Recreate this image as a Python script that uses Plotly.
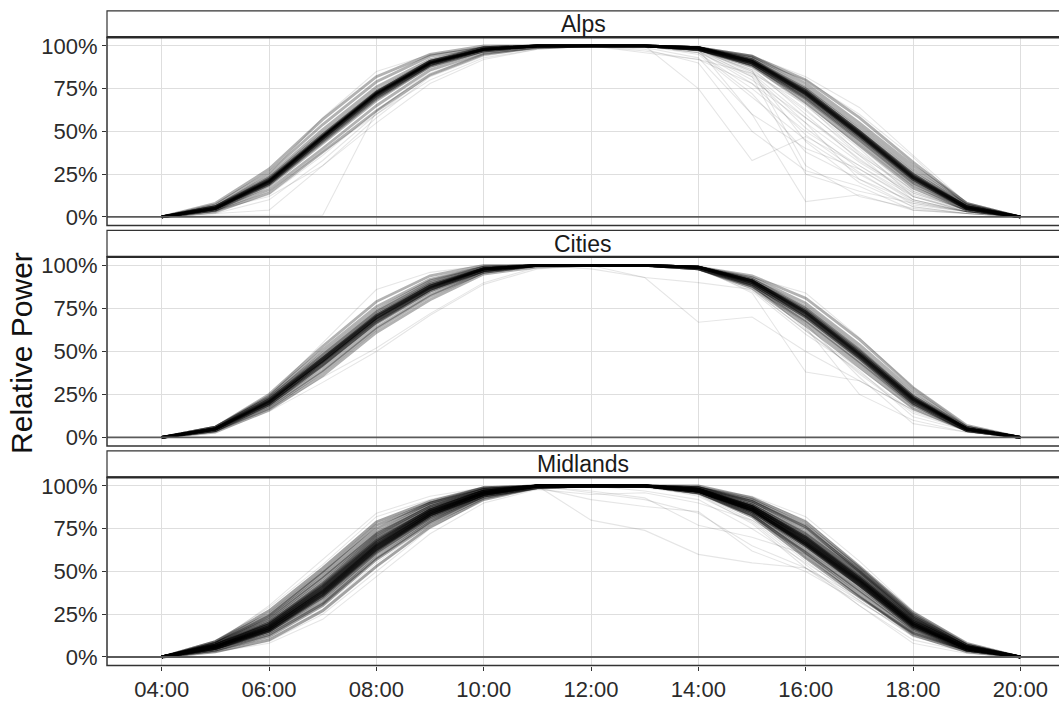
import plotly.graph_objects as go

# ---------------- data ----------------
HOURS = list(range(4, 21))  # 04:00 .. 20:00
HOUR_TICKS = [4, 6, 8, 10, 12, 14, 16, 18, 20]
HOUR_LABELS = ["04:00", "06:00", "08:00", "10:00", "12:00", "14:00", "16:00", "18:00", "20:00"]
PCT_TICKS = [0, 25, 50, 75, 100]
PCT_LABELS = ["0%", "25%", "50%", "75%", "100%"]
REGIONS = ["Alps", "Cities", "Midlands"]

# relative power (%) per hour 04..20; "typical" days form the dense band,
# "atypical" days are the faint scattered profiles
ALPS_TYPICAL = [
    [0, 3, 14, 38, 62, 83, 95, 99, 100, 100, 98, 88, 67, 42, 17, 4, 0],
    [0, 4, 16, 40, 65, 86, 96, 99, 100, 100, 98, 89, 69, 44, 19, 4, 0],
    [0, 4, 18, 43, 68, 88, 97, 100, 100, 100, 98, 89, 70, 46, 21, 5, 0],
    [0, 5, 19, 45, 70, 89, 98, 100, 100, 100, 98, 90, 71, 47, 22, 5, 0],
    [0, 5, 20, 46, 71, 90, 98, 100, 100, 100, 99, 90, 72, 48, 23, 5, 0],
    [0, 5, 21, 47, 72, 90, 98, 100, 100, 100, 99, 91, 73, 49, 24, 6, 0],
    [0, 5, 22, 47, 73, 91, 98, 100, 100, 100, 99, 91, 74, 50, 24, 6, 0],
    [0, 6, 22, 48, 73, 91, 99, 100, 100, 100, 99, 92, 74, 50, 25, 6, 0],
    [0, 6, 23, 49, 74, 91, 99, 100, 100, 100, 99, 92, 75, 51, 26, 7, 0],
    [0, 6, 24, 51, 76, 92, 99, 100, 100, 100, 99, 93, 76, 53, 28, 7, 0],
    [0, 7, 26, 54, 79, 94, 99, 100, 100, 100, 99, 94, 78, 55, 30, 8, 0],
    [0, 8, 28, 57, 82, 95, 100, 100, 100, 100, 99, 94, 80, 58, 32, 8, 0],
    [0, 5, 20, 46, 71, 89, 97, 100, 100, 100, 98, 90, 71, 47, 22, 5, 0],
    [0, 4, 19, 44, 69, 88, 97, 100, 100, 100, 99, 91, 72, 48, 23, 6, 0],
    [0, 6, 21, 47, 72, 90, 98, 100, 100, 100, 99, 92, 73, 49, 24, 6, 0],
    [0, 5, 20, 45, 70, 89, 98, 100, 100, 100, 98, 89, 69, 45, 20, 5, 0],
    [0, 5, 21, 47, 72, 90, 98, 100, 100, 100, 99, 91, 73, 49, 23, 6, 0],
    [0, 5, 20, 46, 72, 90, 98, 100, 100, 100, 99, 91, 72, 48, 23, 5, 0],
    [0, 6, 22, 48, 73, 91, 98, 100, 100, 100, 99, 91, 74, 50, 25, 6, 0],
    [0, 5, 21, 46, 71, 90, 98, 100, 100, 100, 98, 90, 72, 48, 22, 5, 0],
]
ALPS_ATYPICAL = [
    [0, 3, 13, 36, 62, 84, 95, 99, 100, 100, 99, 91, 73, 49, 24, 6, 0],
    [0, 2, 10, 33, 60, 83, 95, 99, 100, 100, 98, 90, 72, 48, 23, 5, 0],
    [0, 2, 4, 30, 58, 82, 94, 99, 100, 100, 99, 92, 74, 50, 25, 6, 0],
    [0, 1, 1, 1, 62, 85, 95, 99, 100, 100, 99, 91, 73, 49, 24, 6, 0],
    [0, 3, 15, 38, 60, 80, 93, 98, 100, 100, 99, 90, 72, 48, 23, 5, 0],
    [0, 6, 25, 58, 85, 95, 99, 100, 100, 100, 99, 91, 73, 49, 24, 6, 0],
    [0, 4, 12, 30, 55, 78, 92, 98, 100, 100, 99, 90, 72, 48, 23, 5, 0],
    [0, 5, 21, 47, 72, 90, 98, 100, 100, 100, 97, 80, 58, 36, 16, 4, 0],
    [0, 5, 22, 48, 73, 91, 98, 100, 100, 100, 96, 75, 50, 30, 12, 3, 0],
    [0, 4, 20, 46, 71, 89, 98, 100, 100, 100, 95, 70, 45, 25, 8, 3, 0],
    [0, 5, 21, 47, 72, 90, 98, 100, 100, 99, 93, 60, 40, 28, 10, 3, 0],
    [0, 6, 23, 49, 74, 91, 99, 100, 100, 100, 98, 85, 62, 38, 15, 4, 0],
    [0, 5, 21, 47, 72, 90, 98, 100, 100, 100, 75, 33, 47, 30, 10, 3, 0],
    [0, 5, 20, 45, 70, 89, 98, 100, 100, 98, 90, 50, 27, 18, 4, 2, 0],
    [0, 4, 19, 44, 69, 88, 97, 100, 100, 96, 92, 78, 55, 22, 6, 2, 0],
    [0, 5, 21, 47, 72, 90, 98, 100, 100, 100, 99, 88, 65, 40, 12, 3, 0],
    [0, 5, 22, 48, 73, 91, 98, 100, 100, 100, 98, 86, 30, 12, 5, 2, 0],
    [0, 6, 22, 48, 73, 90, 98, 100, 100, 100, 99, 92, 80, 60, 35, 6, 0],
    [0, 5, 21, 47, 72, 90, 98, 100, 100, 100, 99, 94, 82, 64, 36, 8, 0],
    [0, 5, 20, 46, 71, 90, 98, 100, 100, 100, 98, 87, 60, 33, 14, 4, 0],
    [0, 5, 21, 47, 72, 90, 98, 100, 100, 100, 97, 83, 55, 32, 13, 3, 0],
    [0, 5, 21, 47, 72, 90, 98, 100, 100, 100, 96, 82, 25, 15, 8, 3, 0],
    [0, 5, 21, 47, 72, 90, 98, 100, 100, 100, 98, 60, 9, 13, 4, 2, 0],
    [0, 5, 21, 47, 72, 90, 98, 100, 100, 97, 92, 84, 66, 42, 18, 5, 0],
    [0, 5, 21, 47, 72, 90, 98, 100, 100, 100, 98, 84, 58, 34, 12, 4, 0],
    [0, 5, 21, 47, 72, 90, 98, 100, 100, 100, 97, 86, 63, 36, 10, 3, 0],
    [0, 5, 21, 47, 72, 90, 98, 100, 100, 100, 98, 88, 67, 41, 15, 4, 0],
    [0, 5, 21, 47, 72, 90, 98, 100, 100, 100, 98, 82, 52, 28, 9, 3, 0],
    [0, 5, 21, 47, 72, 90, 98, 100, 100, 100, 99, 90, 66, 37, 14, 4, 0],
    [0, 5, 21, 47, 72, 90, 98, 100, 100, 100, 97, 78, 48, 26, 7, 3, 0],
    [0, 5, 21, 47, 72, 90, 98, 100, 100, 100, 98, 85, 44, 20, 6, 2, 0],
    [0, 5, 21, 47, 72, 90, 98, 100, 100, 100, 96, 72, 38, 22, 9, 3, 0],
]

CITIES_TYPICAL = [
    [0, 3, 16, 36, 61, 80, 95, 99, 100, 100, 98, 87, 65, 41, 17, 4, 0],
    [0, 4, 17, 38, 63, 82, 96, 100, 100, 100, 98, 88, 67, 43, 19, 4, 0],
    [0, 4, 18, 39, 64, 83, 96, 100, 100, 100, 98, 88, 68, 44, 19, 4, 0],
    [0, 4, 19, 41, 66, 85, 97, 100, 100, 100, 98, 89, 70, 46, 20, 4, 0],
    [0, 5, 19, 42, 67, 85, 97, 100, 100, 100, 99, 89, 70, 46, 21, 5, 0],
    [0, 5, 20, 43, 68, 86, 97, 100, 100, 100, 99, 90, 71, 47, 21, 5, 0],
    [0, 5, 20, 44, 69, 87, 98, 100, 100, 100, 99, 90, 72, 48, 22, 5, 0],
    [0, 5, 21, 45, 70, 87, 98, 100, 100, 100, 99, 91, 72, 48, 22, 5, 0],
    [0, 5, 21, 45, 70, 88, 98, 100, 100, 100, 99, 91, 73, 49, 23, 5, 0],
    [0, 5, 22, 46, 71, 88, 98, 100, 100, 100, 99, 91, 73, 49, 23, 5, 0],
    [0, 5, 22, 47, 72, 89, 98, 100, 100, 100, 99, 91, 74, 50, 24, 5, 0],
    [0, 6, 23, 48, 73, 90, 99, 100, 100, 100, 99, 92, 75, 51, 24, 6, 0],
    [0, 6, 23, 49, 74, 91, 99, 100, 100, 100, 99, 92, 76, 52, 25, 6, 0],
    [0, 6, 24, 51, 76, 92, 99, 100, 100, 100, 99, 93, 78, 54, 27, 6, 0],
    [0, 6, 25, 53, 79, 94, 100, 100, 100, 100, 99, 94, 81, 57, 29, 7, 0],
    [0, 4, 19, 42, 67, 86, 97, 100, 100, 100, 99, 90, 71, 47, 21, 5, 0],
    [0, 5, 20, 44, 68, 86, 97, 100, 100, 100, 98, 89, 70, 46, 20, 4, 0],
    [0, 5, 21, 46, 71, 89, 98, 100, 100, 100, 99, 91, 73, 49, 23, 5, 0],
    [0, 5, 21, 46, 70, 88, 98, 100, 100, 100, 99, 91, 73, 48, 22, 5, 0],
    [0, 5, 20, 44, 69, 87, 98, 100, 100, 100, 99, 90, 72, 48, 22, 5, 0],
    [0, 5, 22, 46, 71, 88, 98, 100, 100, 100, 99, 91, 74, 50, 23, 5, 0],
]
CITIES_ATYPICAL = [
    [0, 4, 16, 35, 52, 72, 90, 99, 100, 100, 99, 90, 72, 48, 22, 5, 0],
    [0, 3, 15, 32, 50, 71, 89, 98, 100, 100, 99, 91, 72, 48, 22, 5, 0],
    [0, 6, 24, 55, 86, 96, 100, 100, 100, 100, 99, 90, 72, 48, 22, 5, 0],
    [0, 5, 21, 44, 69, 87, 98, 100, 100, 93, 67, 70, 50, 33, 16, 4, 0],
    [0, 5, 21, 44, 69, 87, 98, 100, 98, 93, 90, 86, 62, 38, 15, 4, 0],
    [0, 5, 21, 44, 69, 87, 98, 100, 100, 100, 99, 84, 38, 33, 16, 4, 0],
    [0, 5, 21, 44, 69, 87, 98, 100, 100, 100, 98, 85, 60, 39, 12, 4, 0],
    [0, 5, 21, 44, 69, 87, 98, 100, 100, 100, 99, 90, 66, 35, 8, 3, 0],
    [0, 5, 20, 42, 66, 84, 96, 99, 100, 100, 99, 93, 84, 58, 29, 7, 0],
    [0, 5, 21, 44, 69, 87, 98, 100, 100, 100, 99, 88, 64, 25, 10, 3, 0],
    [0, 5, 21, 44, 69, 87, 98, 100, 100, 100, 98, 86, 62, 40, 17, 4, 0],
    [0, 5, 21, 44, 69, 87, 98, 100, 100, 100, 99, 89, 63, 37, 14, 4, 0],
]

MIDLANDS_TYPICAL = [
    [0, 3, 10, 27, 53, 76, 92, 99, 100, 100, 96, 82, 58, 35, 14, 4, 0],
    [0, 4, 12, 30, 57, 78, 93, 99, 100, 100, 96, 83, 61, 38, 15, 4, 0],
    [0, 4, 13, 31, 58, 79, 94, 99, 100, 100, 97, 84, 62, 39, 16, 4, 0],
    [0, 5, 14, 32, 60, 80, 94, 99, 100, 100, 96, 83, 60, 36, 13, 3, 0],
    [0, 5, 15, 34, 61, 81, 94, 100, 100, 100, 97, 85, 64, 41, 17, 5, 0],
    [0, 5, 15, 35, 62, 82, 95, 100, 100, 100, 97, 86, 66, 43, 18, 5, 0],
    [0, 5, 16, 36, 63, 82, 95, 100, 100, 100, 97, 85, 65, 42, 18, 4, 0],
    [0, 6, 16, 37, 64, 83, 95, 100, 100, 100, 98, 87, 68, 45, 20, 5, 0],
    [0, 6, 17, 38, 65, 84, 96, 100, 100, 100, 97, 86, 67, 44, 19, 5, 0],
    [0, 6, 17, 38, 65, 84, 96, 100, 100, 100, 98, 88, 69, 46, 21, 6, 0],
    [0, 6, 18, 39, 66, 85, 96, 100, 100, 100, 98, 87, 68, 45, 20, 5, 0],
    [0, 6, 18, 40, 67, 85, 96, 100, 100, 100, 98, 88, 70, 47, 22, 6, 0],
    [0, 7, 19, 41, 68, 86, 97, 100, 100, 100, 98, 89, 71, 48, 22, 6, 0],
    [0, 7, 19, 42, 69, 86, 97, 100, 100, 100, 97, 86, 66, 42, 17, 4, 0],
    [0, 7, 20, 43, 70, 87, 97, 100, 100, 100, 98, 89, 72, 49, 23, 6, 0],
    [0, 7, 21, 44, 71, 88, 97, 100, 100, 100, 99, 90, 73, 50, 24, 7, 0],
    [0, 8, 22, 46, 72, 88, 98, 100, 100, 100, 98, 88, 70, 46, 20, 5, 0],
    [0, 8, 23, 47, 73, 89, 98, 100, 100, 100, 99, 91, 75, 51, 24, 7, 0],
    [0, 8, 24, 49, 75, 90, 98, 100, 100, 100, 99, 92, 77, 52, 25, 7, 0],
    [0, 9, 25, 50, 77, 90, 99, 100, 100, 100, 99, 91, 76, 50, 23, 6, 0],
    [0, 9, 27, 52, 79, 91, 99, 100, 100, 100, 100, 93, 79, 53, 26, 8, 0],
    [0, 6, 17, 39, 65, 84, 96, 100, 100, 100, 97, 87, 67, 44, 19, 5, 0],
    [0, 6, 18, 40, 66, 85, 96, 100, 100, 100, 98, 87, 68, 45, 20, 5, 0],
    [0, 5, 16, 37, 63, 83, 95, 100, 100, 100, 97, 86, 66, 43, 19, 5, 0],
    [0, 7, 19, 41, 67, 86, 97, 100, 100, 100, 98, 88, 69, 46, 21, 6, 0],
    [0, 6, 17, 38, 64, 84, 96, 100, 100, 100, 97, 86, 67, 44, 19, 5, 0],
    [0, 5, 15, 36, 62, 83, 95, 100, 100, 100, 97, 85, 65, 42, 18, 5, 0],
    [0, 7, 20, 42, 68, 86, 97, 100, 100, 100, 98, 88, 70, 47, 21, 6, 0],
    [0, 6, 16, 36, 63, 83, 95, 100, 100, 100, 97, 86, 66, 44, 19, 5, 0],
]
MIDLANDS_ATYPICAL = [
    [0, 3, 9, 25, 50, 75, 92, 99, 100, 100, 95, 80, 56, 33, 12, 3, 0],
    [0, 4, 11, 28, 55, 77, 93, 99, 100, 100, 94, 79, 54, 30, 8, 2, 0],
    [0, 9, 29, 54, 82, 92, 99, 100, 100, 100, 100, 93, 80, 53, 26, 8, 0],
    [0, 5, 16, 37, 64, 83, 95, 100, 80, 74, 60, 55, 52, 35, 14, 4, 0],
    [0, 6, 17, 38, 65, 84, 96, 100, 96, 92, 84, 65, 52, 33, 12, 4, 0],
    [0, 6, 18, 39, 66, 85, 96, 99, 92, 88, 85, 62, 50, 32, 14, 4, 0],
    [0, 5, 17, 38, 65, 84, 96, 100, 97, 93, 77, 70, 60, 40, 17, 5, 0],
    [0, 6, 18, 39, 66, 85, 96, 98, 95, 96, 90, 80, 62, 42, 18, 5, 0],
    [0, 5, 15, 34, 61, 81, 94, 100, 100, 97, 92, 75, 55, 35, 14, 4, 0],
    [0, 8, 30, 57, 84, 94, 99, 100, 100, 100, 99, 94, 82, 56, 27, 8, 0],
    [0, 3, 8, 22, 47, 72, 90, 98, 100, 100, 95, 78, 52, 30, 10, 3, 0],
    [0, 6, 18, 39, 66, 85, 96, 100, 100, 99, 95, 84, 58, 36, 13, 4, 0],
]

TYPICAL = {"Alps": ALPS_TYPICAL, "Cities": CITIES_TYPICAL, "Midlands": MIDLANDS_TYPICAL}
ATYPICAL = {"Alps": ALPS_ATYPICAL, "Cities": CITIES_ATYPICAL, "Midlands": MIDLANDS_ATYPICAL}
BAND_ALPHA = {"Alps": 0.3, "Cities": 0.3, "Midlands": 0.36}

# ---------------- layout geometry ----------------
W, H = 1059, 702
X_LEFT = 107
PANELS = [(7, 34, 226), (231, 258, 451), (456, 483, 675)]  # strip top, panel top, panel bottom (px)
FONT = "Liberation Sans, Arial, sans-serif"


def py(p):
    return 1 - p / H


fig = go.Figure()
shapes = []
annotations = []
axes = {}

for i, region in enumerate(REGIONS):
    n = i + 1
    xa = "x" if n == 1 else f"x{n}"
    ya = "y" if n == 1 else f"y{n}"
    for prof in ATYPICAL[region]:
        fig.add_trace(go.Scatter(
            x=HOURS, y=prof, mode="lines",
            line=dict(color="rgba(0,0,0,0.1)", width=1.1),
            xaxis=xa, yaxis=ya, hoverinfo="skip", showlegend=False))
    for prof in TYPICAL[region]:
        fig.add_trace(go.Scatter(
            x=HOURS, y=prof, mode="lines",
            line=dict(color=f"rgba(0,0,0,{BAND_ALPHA[region]})", width=2.8),
            xaxis=xa, yaxis=ya, hoverinfo="skip", showlegend=False))

    st, pt, pb = PANELS[i]
    last = (n == len(REGIONS))
    axes["xaxis" if n == 1 else f"xaxis{n}"] = dict(
        domain=[X_LEFT / W, 1.0], range=[2.98, 20.72],
        anchor=ya, tickvals=HOUR_TICKS, ticktext=HOUR_LABELS,
        showticklabels=last, ticks="outside" if last else "",
        ticklen=4, tickcolor="#333333", tickwidth=1,
        tickfont=dict(size=22, color="#2b2b2b", family=FONT),
        showgrid=True, gridcolor="#dedede", gridwidth=1.2, zeroline=False,
        showline=False)
    axes["yaxis" if n == 1 else f"yaxis{n}"] = dict(
        domain=[py(pb), py(pt)], range=[-5, 105], anchor=xa,
        tickvals=PCT_TICKS, ticktext=PCT_LABELS,
        ticks="outside", ticklen=4, tickcolor="#333333", tickwidth=1,
        tickfont=dict(size=22, color="#2b2b2b", family=FONT),
        showgrid=True, gridcolor="#dedede", gridwidth=1.2, zeroline=False,
        showline=False)

    shapes.append(dict(type="line", xref=f"{xa} domain", yref=ya,
                       x0=0, x1=1, y0=0, y1=0,
                       line=dict(color="#5a5a5a", width=1.8), layer="above"))
    shapes.append(dict(type="rect", xref="paper", yref="paper",
                       x0=X_LEFT / W, x1=1.01, y0=py(pt), y1=py(st),
                       fillcolor="white", line=dict(color="#333333", width=1.2),
                       layer="below"))
    shapes.append(dict(type="rect", xref="paper", yref="paper",
                       x0=X_LEFT / W, x1=1.01, y0=py(pb), y1=py(pt),
                       fillcolor="rgba(0,0,0,0)", line=dict(color="#333333", width=1.5),
                       layer="above"))
    shapes.append(dict(type="line", xref="paper", yref="paper",
                       x0=X_LEFT / W, x1=1.01, y0=py(pt), y1=py(pt),
                       line=dict(color="#2a2a2a", width=2.4), layer="above"))
    annotations.append(dict(
        text=region, xref="paper", yref="paper",
        x=(X_LEFT + W) / 2 / W, y=py((st + pt) / 2),
        xanchor="center", yanchor="middle", showarrow=False,
        font=dict(size=23, color="#1a1a1a", family=FONT)))

annotations.append(dict(
    text="Relative Power", xref="paper", yref="paper",
    x=22 / W, y=py(356), textangle=-90,
    xanchor="center", yanchor="middle", showarrow=False,
    font=dict(size=30, color="#111111", family=FONT)))

fig.update_layout(
    width=W, height=H,
    margin=dict(l=0, r=0, t=0, b=0),
    paper_bgcolor="white", plot_bgcolor="white",
    shapes=shapes, annotations=annotations,
    **axes)

fig.write_html("out.html")
